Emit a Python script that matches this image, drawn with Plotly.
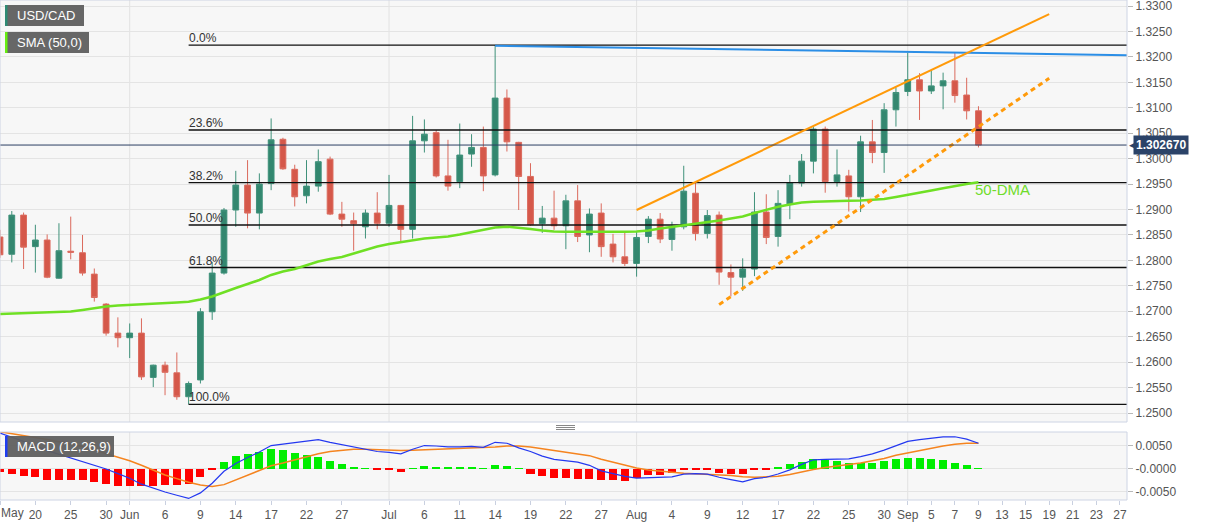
import plotly.graph_objects as go

# ---------------- data ----------------
sessions = [
    "2022-05-17", "2022-05-18", "2022-05-19", "2022-05-20",
    "2022-05-23", "2022-05-24", "2022-05-25", "2022-05-26", "2022-05-27",
    "2022-05-30", "2022-05-31", "2022-06-01", "2022-06-02", "2022-06-03",
    "2022-06-06", "2022-06-07", "2022-06-08", "2022-06-09", "2022-06-10",
    "2022-06-13", "2022-06-14", "2022-06-15", "2022-06-16", "2022-06-17",
    "2022-06-20", "2022-06-21", "2022-06-22", "2022-06-23", "2022-06-24",
    "2022-06-27", "2022-06-28", "2022-06-29", "2022-06-30", "2022-07-01",
    "2022-07-04", "2022-07-05", "2022-07-06", "2022-07-07", "2022-07-08",
    "2022-07-11", "2022-07-12", "2022-07-13", "2022-07-14", "2022-07-15",
    "2022-07-18", "2022-07-19", "2022-07-20", "2022-07-21", "2022-07-22",
    "2022-07-25", "2022-07-26", "2022-07-27", "2022-07-28", "2022-07-29",
    "2022-08-01", "2022-08-02", "2022-08-03", "2022-08-04", "2022-08-05",
    "2022-08-08", "2022-08-09", "2022-08-10", "2022-08-11", "2022-08-12",
    "2022-08-15", "2022-08-16", "2022-08-17", "2022-08-18", "2022-08-19",
    "2022-08-22", "2022-08-23", "2022-08-24", "2022-08-25", "2022-08-26",
    "2022-08-29", "2022-08-30", "2022-08-31", "2022-09-01", "2022-09-02",
    "2022-09-05", "2022-09-06", "2022-09-07", "2022-09-08", "2022-09-09",
    "2022-09-12", "2022-09-13", "2022-09-14", "2022-09-15", "2022-09-16",
    "2022-09-19", "2022-09-20", "2022-09-21", "2022-09-22", "2022-09-23",
    "2022-09-26", "2022-09-27", "2022-09-28",
]

opens = [1.2846, 1.2812, 1.2889, 1.2827, 1.2840, 1.2765, 1.2818, 1.2815, 1.2773, 1.2714,
         1.2657, 1.2648, 1.2657, 1.2570, 1.2594, 1.2579, 1.2532, 1.2565, 1.2699, 1.2775,
         1.2899, 1.2948, 1.2893, 1.2951, 1.3038, 1.2979, 1.2927, 1.2946, 1.2999, 1.2891,
         1.2878, 1.2866, 1.2893, 1.2873, 1.2908, 1.2861, 1.3035, 1.3051, 1.2966, 1.2955,
         1.3009, 1.3022, 1.2968, 1.3119, 1.3032, 1.2965, 1.2872, 1.2883, 1.2868, 1.2917,
         1.2850, 1.2893, 1.2832, 1.2807, 1.2794, 1.2847, 1.2881, 1.2841, 1.2866, 1.2932,
         1.2853, 1.2889, 1.2776, 1.2767, 1.2783, 1.2895, 1.2847, 1.2911, 1.2952, 1.2995,
         1.3058, 1.2955, 1.2966, 1.2925, 1.3033, 1.3012, 1.3096, 1.3132, 1.3155, 1.3133,
         1.3143, 1.3153, 1.3125, 1.3094]
highs = [1.2860, 1.2897, 1.2894, 1.2870, 1.2851, 1.2873, 1.2886, 1.2850, 1.2784, 1.2716,
         1.2688, 1.2676, 1.2686, 1.2595, 1.2601, 1.2619, 1.2562, 1.2706, 1.2797, 1.2903,
         1.2976, 1.2997, 1.2971, 1.3079, 1.3041, 1.2988, 1.2997, 1.3018, 1.3004, 1.2915,
         1.2894, 1.2900, 1.2934, 1.2968, 1.2909, 1.3084, 1.3077, 1.3056, 1.3037, 1.3069,
         1.3048, 1.3063, 1.3223, 1.3136, 1.3033, 1.2991, 1.2907, 1.2937, 1.2929, 1.2948,
         1.2902, 1.2912, 1.2852, 1.2854, 1.2856, 1.2887, 1.2893, 1.2876, 1.2986, 1.2952,
         1.2899, 1.2896, 1.2792, 1.2804, 1.2934, 1.2930, 1.2938, 1.2968, 1.3009, 1.3062,
         1.3063, 1.3018, 1.2978, 1.3045, 1.3076, 1.3109, 1.3140, 1.3208, 1.3168, 1.3173,
         1.3169, 1.3208, 1.3159, 1.3103]
lows = [1.2805, 1.2796, 1.2783, 1.2776, 1.2765, 1.2764, 1.2802, 1.2770, 1.2719, 1.2652,
        1.2629, 1.2608, 1.2565, 1.2551, 1.2535, 1.2526, 1.2517, 1.2558, 1.2683, 1.2772,
        1.2866, 1.2863, 1.2861, 1.2938, 1.2978, 1.2906, 1.2912, 1.2935, 1.2889, 1.2866,
        1.2819, 1.2843, 1.2861, 1.2866, 1.2837, 1.2843, 1.3012, 1.2963, 1.2937, 1.2942,
        1.2984, 1.2936, 1.2965, 1.3014, 1.2899, 1.2868, 1.2854, 1.2860, 1.2822, 1.2836,
        1.2816, 1.2807, 1.2796, 1.2789, 1.2768, 1.2834, 1.2834, 1.2819, 1.2861, 1.2839,
        1.2843, 1.2752, 1.2729, 1.2740, 1.2769, 1.2832, 1.2827, 1.2881, 1.2945, 1.2971,
        1.2933, 1.2945, 1.2896, 1.2895, 1.2991, 1.2972, 1.3063, 1.3123, 1.3076, 1.3127,
        1.3097, 1.3110, 1.3077, 1.3022]
closes = [1.2811, 1.2889, 1.2826, 1.2840, 1.2767, 1.2819, 1.2816, 1.2775, 1.2727, 1.2657,
          1.2648, 1.2657, 1.2571, 1.2594, 1.2580, 1.2532, 1.2558, 1.2699, 1.2775, 1.2899,
          1.2948, 1.2893, 1.2950, 1.3037, 1.2980, 1.2925, 1.2946, 1.2994, 1.2891, 1.2881,
          1.2872, 1.2893, 1.2873, 1.2908, 1.2861, 1.3035, 1.3048, 1.2966, 1.2946, 1.3007,
          1.3022, 1.2966, 1.3119, 1.3033, 1.2965, 1.2870, 1.2883, 1.2868, 1.2917, 1.2847,
          1.2891, 1.2827, 1.2807, 1.2794, 1.2845, 1.2881, 1.2842, 1.2865, 1.2936, 1.2853,
          1.2888, 1.2777, 1.2767, 1.2783, 1.2895, 1.2845, 1.2912, 1.2952, 1.2995, 1.3058,
          1.2955, 1.2968, 1.2925, 1.3033, 1.3012, 1.3096, 1.3130, 1.3155, 1.3133, 1.3143,
          1.3153, 1.3124, 1.3094, 1.30267]

sma50 = [1.26946, 1.26956, 1.26970, 1.26979, 1.26985, 1.26985, 1.26995, 1.27025, 1.27064, 1.27093,
         1.27113, 1.27123, 1.27133, 1.27143, 1.27152, 1.27172, 1.27188, 1.27231, 1.27290, 1.27378,
         1.27457, 1.27536, 1.27614, 1.27713, 1.27781, 1.27830, 1.27909, 1.27978, 1.28027, 1.28066,
         1.28135, 1.28204, 1.28273, 1.28322, 1.28361, 1.28400, 1.28430, 1.28450, 1.28469, 1.28509,
         1.28558, 1.28607, 1.28646, 1.28662, 1.28646, 1.28617, 1.28587, 1.28568, 1.28564, 1.28564,
         1.28554, 1.28552, 1.28554, 1.28562, 1.28568, 1.28587, 1.28627, 1.28656, 1.28686, 1.28725,
         1.28748, 1.28784, 1.28823, 1.28862, 1.28931, 1.28990, 1.29055, 1.29098, 1.29138, 1.29153,
         1.29163, 1.29167, 1.29171, 1.29177, 1.29197, 1.29206, 1.29246, 1.29285, 1.29324, 1.29373,
         1.29417, 1.29462, 1.29501, 1.29535]

macd_line = [0.0078, 0.0069, 0.0060, 0.0051, 0.0040, 0.0032, 0.0025, 0.0016, 0.0009, 0.0000,
             -0.0010, -0.0020, -0.0033, -0.0042, -0.0050, -0.0057, -0.0064, -0.0052, -0.0031, -0.0005,
             0.0012, 0.0025, 0.0037, 0.0051, 0.0054, 0.0057, 0.0060, 0.0064, 0.0058, 0.0053,
             0.0047, 0.0043, 0.0038, 0.0036, 0.0033, 0.0043, 0.0051, 0.0050, 0.0048, 0.0048,
             0.0049, 0.0047, 0.0058, 0.0056, 0.0046, 0.0038, 0.0028, 0.0021, 0.0018, 0.0015,
             0.0008, -0.0004, -0.0010, -0.0016, -0.0020, -0.0019, -0.0019, -0.0017, -0.0011, -0.0010,
             -0.0011, -0.0018, -0.0023, -0.0028, -0.0021, -0.0018, -0.0011, -0.0002, 0.0010, 0.0020,
             0.0021, 0.0021, 0.0022, 0.0027, 0.0033, 0.0041, 0.0051, 0.0060, 0.0064, 0.0067,
             0.0070, 0.0070, 0.0065, 0.0056]
signal_line = [0.0081, 0.0077, 0.0073, 0.0068, 0.0064, 0.0059, 0.0054, 0.0049, 0.0041, 0.0033,
               0.0026, 0.0018, 0.0008, -0.0003, -0.0013, -0.0021, -0.0029, -0.0035, -0.0038, -0.0034,
               -0.0024, -0.0013, -0.0003, 0.0007, 0.0013, 0.0020, 0.0027, 0.0033, 0.0038, 0.0041,
               0.0043, 0.0043, 0.0042, 0.0041, 0.0040, 0.0041, 0.0042, 0.0043, 0.0044, 0.0045,
               0.0045, 0.0046, 0.0048, 0.0050, 0.0050, 0.0048, 0.0044, 0.0040, 0.0036, 0.0033,
               0.0029, 0.0021, 0.0015, 0.0009, 0.0002, -0.0002, -0.0005, -0.0007, -0.0009, -0.0010,
               -0.0011, -0.0012, -0.0014, -0.0017, -0.0018, -0.0017, -0.0016, -0.0012, -0.0006, -0.0001,
               0.0003, 0.0006, 0.0010, 0.0013, 0.0018, 0.0023, 0.0030, 0.0035, 0.0041, 0.0046,
               0.0050, 0.0054, 0.0056, 0.0056]
macd_hist = [-0.0007, -0.0010, -0.0016, -0.0017, -0.0025, -0.0025, -0.0024, -0.0025, -0.0028, -0.0033,
             -0.0036, -0.0036, -0.0038, -0.0036, -0.0034, -0.0034, -0.0032, -0.0017, -0.0003, 0.0015,
             0.0029, 0.0032, 0.0037, 0.0044, 0.0041, 0.0035, 0.0030, 0.0027, 0.0018, 0.0010,
             0.0003, 0.00005, -0.0002, -0.0002, -0.0007, 0.0002, 0.0007, 0.0005, 0.0004, 0.0004,
             0.0004, 0.0001, 0.0009, 0.0007, 0.00005, -0.0011, -0.0016, -0.0020, -0.0019, -0.0022,
             -0.0022, -0.0024, -0.0025, -0.0026, -0.0020, -0.0013, -0.0012, -0.0008, -0.0002, -0.0001,
             -0.0001, -0.0008, -0.0010, -0.0010, -0.0002, -0.0001, 0.0004, 0.0010, 0.0016, 0.0022,
             0.0020, 0.0017, 0.0012, 0.0014, 0.0014, 0.0018, 0.0021, 0.0024, 0.0023, 0.0021,
             0.0019, 0.0014, 0.0009, 0.00005]

# the first tick ("May") sits on the left edge; its text is written separately so it stays whole
first_tick_label = "May"
tick_dates = ["2022-05-17", "2022-05-20", "2022-05-25", "2022-05-30", "2022-06-01",
              "2022-06-06", "2022-06-09", "2022-06-14", "2022-06-17", "2022-06-22",
              "2022-06-27", "2022-07-01", "2022-07-06", "2022-07-11", "2022-07-14",
              "2022-07-19", "2022-07-22", "2022-07-27", "2022-08-01", "2022-08-04",
              "2022-08-09", "2022-08-12", "2022-08-17", "2022-08-22", "2022-08-25",
              "2022-08-30", "2022-09-01", "2022-09-05", "2022-09-07", "2022-09-09",
              "2022-09-13", "2022-09-15", "2022-09-19", "2022-09-21", "2022-09-23",
              "2022-09-27"]
tick_text = ["", "20", "25", "30", "Jun",
             "6", "9", "14", "17", "22", "27", "Jul", "6", "11", "14", "19", "22", "27",
             "Aug", "4", "9", "12", "17", "22", "25", "30", "Sep", "5", "7", "9",
             "13", "15", "19", "21", "23", "27"]
month_dates = ["2022-06-01", "2022-07-01", "2022-08-01", "2022-09-01"]

price_ticks = [1.2500, 1.2550, 1.2600, 1.2650, 1.2700, 1.2750, 1.2800, 1.2850, 1.2900,
               1.2950, 1.3000, 1.3050, 1.3100, 1.3150, 1.3200, 1.3250, 1.3300]
price_tick_text = ["1.2500", "1.2550", "1.2600", "1.2650", "1.2700", "1.2750", "1.2800",
                   "1.2850", "1.2900", "1.2950", "1.3000", "1.3050", "1.3100", "1.3150",
                   "1.3200", "1.3250", "1.3300"]
macd_ticks = [0.005, 0.0, -0.005]
macd_tick_text = ["0.0050", "-0.0000", "-0.0050"]

fib_labels = ["0.0%", "23.6%", "38.2%", "50.0%", "61.8%", "100.0%"]
fib_levels = [1.3223, 1.30563, 1.29530, 1.28695, 1.27860, 1.2517]
fib_start = "2022-06-08"

resistance_dates = ["2022-07-14", "2022-09-28"]
resistance_prices = [1.3222, 1.3203]
channel_top_dates = ["2022-08-01", "2022-09-19"]
channel_top_prices = [1.2899, 1.3284]
channel_bottom_dates = ["2022-08-10", "2022-09-19"]
channel_bottom_prices = [1.2713, 1.3158]

# ---------------- helpers ----------------
pos = {d: i for i, d in enumerate(sessions)}
xs = list(range(len(closes)))
X_RANGE = [0.0, 95.6]
Y_RANGE = [1.24823, 1.33118]
M_RANGE = [-0.00674, 0.00804]
PW, PH = 1127.0, 500.0
FONT = "Liberation Sans, Arial, sans-serif"

GREEN_FILL, GREEN_LINE = "#33876f", "#3f917a"
RED_FILL, RED_LINE = "#d5584a", "#db6a5d"
SMA_COLOR = "#6fe024"


def fx(p):
    return p / PW


def fy(p):
    return 1 - p / PH


fig = go.Figure()

# candles
fig.add_trace(go.Candlestick(
    x=xs, open=opens, high=highs, low=lows, close=closes,
    increasing=dict(fillcolor=GREEN_FILL, line=dict(color=GREEN_LINE, width=1)),
    decreasing=dict(fillcolor=RED_FILL, line=dict(color=RED_LINE, width=1)),
    whiskerwidth=0, xaxis="x", yaxis="y", hoverinfo="skip"))

# fibonacci levels
fx0 = pos[fib_start]
for lab, lvl in zip(fib_labels, fib_levels):
    fig.add_trace(go.Scatter(x=[fx0, pos[sessions[-1]]], y=[lvl, lvl], mode="lines",
                             line=dict(color="#111111", width=1.3), xaxis="x", yaxis="y",
                             hoverinfo="skip"))
    fig.add_annotation(x=fx0, y=lvl, xref="x", yref="y", text=lab, showarrow=False,
                       xanchor="left", yanchor="bottom", xshift=-2, yshift=-2,
                       font=dict(family=FONT, size=12, color="#333333"))

# SMA
fig.add_trace(go.Scatter(x=xs, y=sma50, mode="lines", line=dict(color=SMA_COLOR, width=2.5),
                         xaxis="x", yaxis="y", hoverinfo="skip"))

# trend lines
fig.add_trace(go.Scatter(x=[pos[d] for d in resistance_dates], y=resistance_prices, mode="lines",
                         line=dict(color="#2b8ee6", width=2), xaxis="x", yaxis="y", hoverinfo="skip"))
fig.add_trace(go.Scatter(x=[pos[d] for d in channel_top_dates], y=channel_top_prices, mode="lines",
                         line=dict(color="#ff9a0a", width=2), xaxis="x", yaxis="y", hoverinfo="skip"))
fig.add_trace(go.Scatter(x=[pos[d] for d in channel_bottom_dates], y=channel_bottom_prices, mode="lines",
                         line=dict(color="#ff9a0a", width=3, dash="5px,4px"), xaxis="x", yaxis="y",
                         hoverinfo="skip"))

# MACD
fig.add_trace(go.Bar(x=xs, y=macd_hist, width=0.68,
                     marker=dict(color=["#00ee00" if v >= 0 else "#ff0000" for v in macd_hist],
                                 line=dict(width=0)),
                     xaxis="x", yaxis="y2", hoverinfo="skip"))
fig.add_trace(go.Scatter(x=xs, y=signal_line, mode="lines", line=dict(color="#f5841f", width=1.5),
                         xaxis="x", yaxis="y2", hoverinfo="skip"))
fig.add_trace(go.Scatter(x=xs, y=macd_line, mode="lines", line=dict(color="#2438f0", width=1.2),
                         xaxis="x", yaxis="y2", hoverinfo="skip"))

shapes = []
# month grid lines
for d in month_dates:
    for yr in ("y domain", "y2 domain"):
        shapes.append(dict(type="line", xref="x", yref=yr, x0=pos[d], x1=pos[d], y0=0, y1=1,
                           line=dict(color="#e2e2e2", width=1), layer="below"))
# last price line
shapes.append(dict(type="line", xref="x domain", yref="y", x0=0, x1=1, y0=closes[-1], y1=closes[-1],
                   line=dict(color="#2b3f63", width=1)))
# panel borders
for yr in ("y domain", "y2 domain"):
    shapes.append(dict(type="rect", xref="x domain", yref=yr, x0=0, x1=1, y0=0, y1=1,
                       line=dict(color="#cdd4e4", width=1)))
# separator handle
for yy in (425.5, 427.5, 429.5):
    shapes.append(dict(type="line", xref="paper", yref="paper", x0=fx(556), x1=fx(575),
                       y0=fy(yy), y1=fy(yy), line=dict(color="#888888", width=1)))
# label boxes
boxes = [("USD/CAD", 5, 84, 5, 26, "#2e8b74"),
         ("SMA (50,0)", 5, 89, 32, 53, "#66ee11"),
         ("MACD (12,26,9)", 5, 114, 436, 457, "#1f3df0")]
for text, x0, x1, y0, y1, bar in boxes:
    shapes.append(dict(type="rect", xref="paper", yref="paper", x0=fx(x0), x1=fx(x1),
                       y0=fy(y1), y1=fy(y0), fillcolor="rgba(95,95,95,0.95)", line=dict(width=0)))
    shapes.append(dict(type="rect", xref="paper", yref="paper", x0=fx(x0), x1=fx(x0 + 2.5),
                       y0=fy(y1), y1=fy(y0), fillcolor=bar, line=dict(width=0)))
    fig.add_annotation(xref="paper", yref="paper", x=fx(x0 + 10), y=fy((y0 + y1) / 2), text=text,
                       showarrow=False, xanchor="left", yanchor="middle",
                       font=dict(family=FONT, size=13, color="white"))

# 50-DMA label
fig.add_annotation(x=xs[-1], y=sma50[-1], xref="x", yref="y", text="50-DMA", showarrow=False,
                   xanchor="left", yanchor="top", xshift=-5, yshift=3,
                   font=dict(family=FONT, size=15, color="#6fdc2a"))

# last price tag
fig.add_annotation(xref="paper", yref="y", x=1, y=closes[-1], text="<b>%.6f</b>" % closes[-1],
                   showarrow=False, xanchor="left", yanchor="middle", xshift=6,
                   bgcolor="#2b4368", borderpad=2,
                   font=dict(family=FONT, size=12, color="white"))
fig.add_annotation(xref="paper", yref="y", x=1, y=closes[-1], text="◀",
                   showarrow=False, xanchor="left", yanchor="middle", xshift=0,
                   font=dict(family="DejaVu Sans", size=9, color="#2b4368"))

axis_font = dict(family=FONT, size=12, color="#555555")

# first (edge) tick label
fig.add_annotation(xref="paper", yref="paper", x=0, y=fy(513), text=first_tick_label,
                   showarrow=False, xanchor="left", yanchor="middle", xshift=-1,
                   font=axis_font)

fig.update_layout(
    width=1207, height=526,
    margin=dict(l=0, r=80, t=0, b=26, autoexpand=False),
    paper_bgcolor="white", plot_bgcolor="#f7f7f7",
    showlegend=False, bargap=0,
    shapes=shapes,
    xaxis=dict(domain=[0, 1], anchor="y2", range=X_RANGE, showgrid=False, zeroline=False,
               tickvals=[pos[d] for d in tick_dates], ticktext=tick_text,
               ticks="outside", ticklen=4, tickcolor="#c9d0e0", tickfont=axis_font,
               automargin=False,
               showline=False, rangeslider=dict(visible=False), fixedrange=True),
    yaxis=dict(domain=[1 - 422 / PH, 1], anchor="x", side="right", range=Y_RANGE,
               tickvals=price_ticks, ticktext=price_tick_text, showgrid=True,
               gridcolor="#e4e4e4", zeroline=False, ticks="outside", ticklen=5,
               tickcolor="#b8b8b8", tickfont=axis_font, ticklabeloverflow="allow",
               automargin=False, fixedrange=True),
    yaxis2=dict(domain=[0, 68 / PH], anchor="x", side="right", range=M_RANGE,
                tickvals=macd_ticks, ticktext=macd_tick_text, showgrid=True,
                gridcolor="#e4e4e4", zeroline=False, ticks="outside", ticklen=5,
                tickcolor="#b8b8b8", tickfont=axis_font, ticklabeloverflow="allow",
                automargin=False, fixedrange=True),
)

# the page's default 8px body margin would push the 1207x526 figure out of the window
fig.write_html("out.html", config={"displayModeBar": False},
               post_script="document.body.style.margin='0px';")
